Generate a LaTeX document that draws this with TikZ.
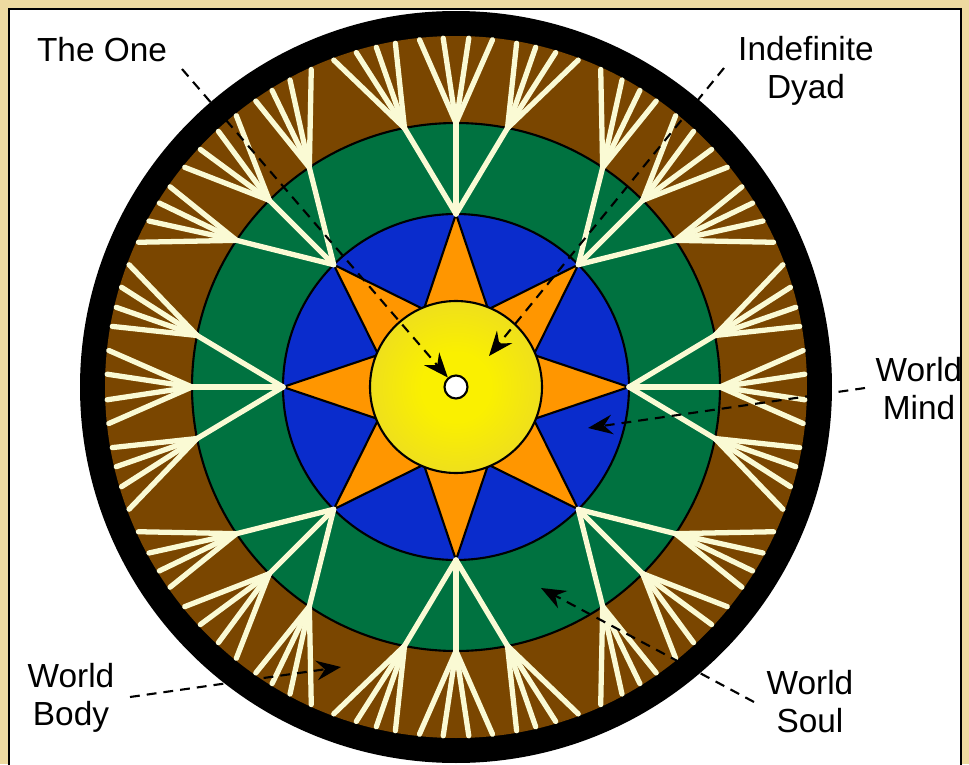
\documentclass[tikz,border=0pt]{standalone}
\usepackage{fontspec}
\setmainfont{Liberation Sans}
\usetikzlibrary{arrows.meta}
\definecolor{parch}{RGB}{238,218,160}
\definecolor{bodybrown}{RGB}{122,70,0}
\definecolor{soulgreen}{RGB}{0,114,64}
\definecolor{mindblueA}{RGB}{10,44,204}
\definecolor{mindblueB}{RGB}{3,26,152}
\definecolor{starorange}{RGB}{255,150,0}
\definecolor{oneyellowA}{RGB}{250,240,0}
\definecolor{oneyellowB}{RGB}{220,196,74}
\definecolor{dotyellow}{RGB}{250,240,170}
\definecolor{raycream}{RGB}{250,250,212}
\pgfdeclareradialshading{mindshade}{\pgfpointorigin}{color(0bp)=(mindblueA); color(30bp)=(mindblueA); color(50bp)=(mindblueB)}
\pgfdeclareradialshading{oneshade}{\pgfpointorigin}{color(0bp)=(oneyellowA); color(10bp)=(oneyellowA); color(50bp)=(oneyellowB)}
\pgfdeclareradialshading{dotshade}{\pgfpointorigin}{color(0bp)=(white); color(20bp)=(white); color(50bp)=(dotyellow)}
\tikzset{
  rim/.style={draw=black, line width=0.6pt},
  ray/.style={draw=raycream, line width=1.5pt, line cap=round},
  lbl/.style={font=\fontsize{9.5pt}{10.8pt}\selectfont, align=center, inner sep=0pt},
  pointer/.style={draw=black, line width=0.6pt, dash pattern=on 2.8pt off 2pt,
    -{Stealth[length=7pt, width=5.6pt, inset=2.4pt]}}
}
\begin{document}
\begin{tikzpicture}
\useasboundingbox (0,0) rectangle (9.69,7.64);
% frame
\fill[parch] (0,0) rectangle (9.69,7.64);
\filldraw[fill=white, draw=black, line width=0.4pt] (0.09,-1) rectangle (9.61,7.55);
\coordinate (C) at (4.56,3.77);
\begin{scope}[shift={(C)}]
  % rings
  \fill[black] (0,0) circle (3.76);
  \fill[bodybrown] (0,0) circle (3.51);
  \fill[soulgreen, rim] (0,0) circle (2.64);
  \shade[shading=mindshade, rim] (0,0) circle (1.73);
  % star
  \filldraw[fill=starorange, rim, line join=miter] (0:1.73)
    \foreach \a in {22.5,67.5,...,337.5} { -- (\a:0.84) -- ({\a+22.5}:1.73) } -- cycle;
  % rays and fans
  \foreach \s in {0,45,...,315} {
    \foreach \d in {-11.25,0,11.25}
      \draw[ray] (\s:1.73) -- ({\s+\d}:2.64);
    \foreach \e in {-6,-2.1,2.1,6}
      \draw[ray] (\s:2.64) -- ({\s+\e}:3.49);
    \foreach \e in {10,13.2,16.6,20.5} {
      \draw[ray] ({\s+11.25}:2.64) -- ({\s+\e}:3.49);
      \draw[ray] ({\s-11.25}:2.64) -- ({\s-\e}:3.49);
    }
  }
  \shade[shading=oneshade, rim] (0,0) circle (0.86);
\end{scope}
\node[circle, rim, shading=dotshade, minimum size=0.23cm, inner sep=0pt] (dot) at (C) {};
% labels
\node[lbl] (one) at (1.02,7.145) {The One};
\node[lbl] (dyad) at (8.06,6.93) {Indefinite\\Dyad};
\node[lbl] (mind) at (9.19,3.75) {World\\Mind};
\node[lbl] (body) at (0.71,0.66) {World\\Body};
\node[lbl] (soul) at (8.10,0.62) {World\\Soul};
% pointers
\coordinate (oneStart) at (1.82,6.95);
\coordinate (dyadStart) at (7.24,6.96);
\coordinate (dyadTip) at (4.89,4.08);
\coordinate (mindStart) at (8.65,3.76);
\coordinate (mindTip) at (5.88,3.36);
\coordinate (soulStart) at (7.54,0.62);
\coordinate (soulTip) at (5.41,1.76);
\coordinate (bodyStart) at (1.30,0.67);
\coordinate (bodyTip) at (3.41,0.97);
\draw[pointer] (oneStart) -- (dot);
\draw[pointer] (dyadStart) -- (dyadTip);
\draw[pointer] (mindStart) -- (mindTip);
\draw[pointer] (soulStart) -- (soulTip);
\draw[pointer] (bodyStart) -- (bodyTip);
\end{tikzpicture}
\end{document}
